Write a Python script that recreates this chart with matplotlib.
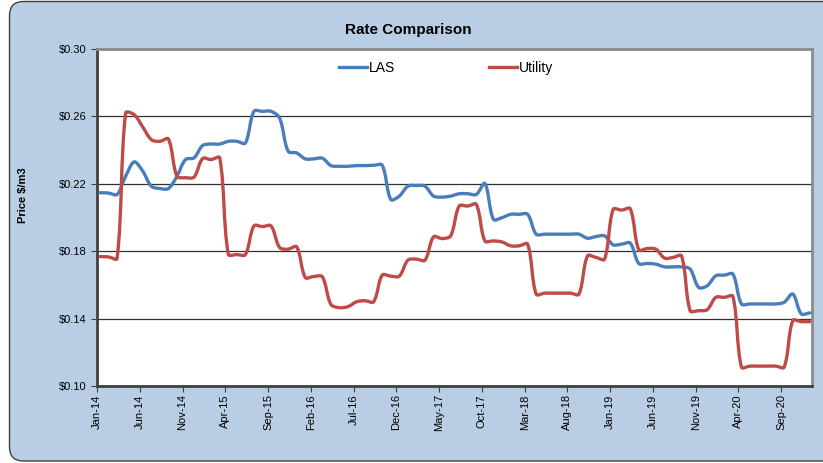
import matplotlib
matplotlib.use('Agg')
import matplotlib.pyplot as plt
import numpy as np
from matplotlib.path import Path
from matplotlib.patches import PathPatch, FancyBboxPatch
from matplotlib.lines import Line2D
from matplotlib.transforms import IdentityTransform
from matplotlib.ticker import FuncFormatter

plt.rcParams['font.family'] = ['Liberation Sans', 'DejaVu Sans']

# monthly rates, Jan-14 .. Dec-20
las = [0.2147, 0.2145, 0.2137, 0.2245, 0.2330, 0.2275, 0.2186, 0.2172, 0.2172, 0.2245,
       0.2344, 0.2354, 0.2427, 0.2436, 0.2436, 0.2452, 0.2452, 0.2442, 0.2630, 0.2630,
       0.2630, 0.2590, 0.2393, 0.2383, 0.2348, 0.2348, 0.2352, 0.2308, 0.2304, 0.2304,
       0.2308, 0.2308, 0.2310, 0.2310, 0.2107, 0.2127, 0.2186, 0.2190, 0.2186, 0.2127,
       0.2121, 0.2127, 0.2141, 0.2141, 0.2137, 0.2202, 0.1989, 0.1999, 0.2019, 0.2019,
       0.2019, 0.1901, 0.1901, 0.1901, 0.1901, 0.1901, 0.1901, 0.1877, 0.1887, 0.1891,
       0.1838, 0.1842, 0.1848, 0.1727, 0.1727, 0.1723, 0.1707, 0.1707, 0.1707, 0.1694,
       0.1585, 0.1595, 0.1654, 0.1658, 0.1664, 0.1487, 0.1487, 0.1487, 0.1487, 0.1487,
       0.1497, 0.1546, 0.1428, 0.1434]
utility = [0.1768, 0.1766, 0.1757, 0.2620, 0.2610, 0.2537, 0.2462, 0.2452, 0.2466, 0.2245,
           0.2236, 0.2240, 0.2350, 0.2344, 0.2354, 0.1782, 0.1780, 0.1780, 0.1950, 0.1946,
           0.1950, 0.1822, 0.1812, 0.1826, 0.1644, 0.1650, 0.1648, 0.1484, 0.1465, 0.1471,
           0.1500, 0.1506, 0.1500, 0.1658, 0.1652, 0.1652, 0.1747, 0.1753, 0.1747, 0.1885,
           0.1875, 0.1891, 0.2068, 0.2068, 0.2078, 0.1861, 0.1861, 0.1855, 0.1832, 0.1832,
           0.1842, 0.1545, 0.1551, 0.1551, 0.1551, 0.1551, 0.1545, 0.1772, 0.1763, 0.1753,
           0.2048, 0.2044, 0.2052, 0.1808, 0.1816, 0.1812, 0.1759, 0.1763, 0.1772, 0.1447,
           0.1447, 0.1453, 0.1526, 0.1526, 0.1532, 0.1112, 0.1118, 0.1118, 0.1118, 0.1118,
           0.1112, 0.1388, 0.1382, 0.1382]
tick_labels = ['Jan-14', 'Jun-14', 'Nov-14', 'Apr-15', 'Sep-15', 'Feb-16', 'Jul-16',
               'Dec-16', 'May-17', 'Oct-17', 'Mar-18', 'Aug-18', 'Jan-19', 'Jun-19',
               'Nov-19', 'Apr-20', 'Sep-20']
y_ticks = [0.10, 0.14, 0.18, 0.22, 0.26, 0.30]

BLUE = '#4A7EBB'
RED = '#BE4B48'


def smooth_path(ax, y):
    # smoothed line like excel: bezier through each point, tangents weighted
    # by on-screen segment lengths so big jumps don't overshoot
    n = len(y)
    P = np.column_stack([np.arange(n, dtype=float), np.asarray(y, dtype=float)])
    D = ax.transData.transform(P)
    seg = np.hypot(*np.diff(D, axis=0).T)
    verts = [tuple(P[0])]
    codes = [Path.MOVETO]
    for i in range(n - 1):
        a = max(i - 1, 0)
        d = min(i + 2, n - 1)
        dm = seg[i]
        da = seg[i - 1] if i > 0 else 0.0
        dd = seg[i + 1] if i + 1 < n - 1 else 0.0
        w1 = dm / (da + dm) if da + dm > 0 else 0.5
        w2 = dm / (dm + dd) if dm + dd > 0 else 0.5
        c1 = P[i] + (P[i + 1] - P[a]) * w1 / 3.0
        c2 = P[i + 1] - (P[d] - P[i]) * w2 / 3.0
        verts += [tuple(c1), tuple(c2), tuple(P[i + 1])]
        codes += [Path.CURVE4] * 3
    return Path(verts, codes)


fig = plt.figure(figsize=(8.23, 4.63), dpi=100)
fig.patch.set_facecolor('white')
bg = FancyBboxPatch((9.5, 2), 830, 459.5, boxstyle='round,pad=0,rounding_size=14',
                    transform=IdentityTransform(), facecolor='#B9CDE5',
                    edgecolor='#404040', lw=1, zorder=-10)
fig.patches.append(bg)

ax = fig.add_axes([97 / 823, 77 / 463, 715 / 823, 337 / 463])
ax.set_facecolor('white')
ax.set_xlim(-0.35, 83.25)
ax.set_ylim(0.10, 0.30)

for vals, col in [(las, BLUE), (utility, RED)]:
    ax.add_patch(PathPatch(smooth_path(ax, vals), fill=False, edgecolor=col, lw=2.4,
                           capstyle='round', joinstyle='round', zorder=3))

ax.set_yticks(y_ticks)
ax.yaxis.set_major_formatter(FuncFormatter(lambda v, p: '${:.2f}'.format(v)))
ax.set_xticks([5 * k - 0.35 for k in range(len(tick_labels))])
ax.set_xticklabels(tick_labels, rotation=90)
ax.tick_params(axis='both', labelsize=8, direction='out', length=4, color='#404040')
ax.tick_params(axis='x', pad=2)
ax.grid(axis='y', color='#303030', lw=0.9, zorder=1)
ax.set_axisbelow(True)

for s in ['left', 'bottom']:
    ax.spines[s].set_color('#404040')
    ax.spines[s].set_linewidth(2)
for s in ['top', 'right']:
    ax.spines[s].set_color('#8C8C8C')
    ax.spines[s].set_linewidth(2)

ax.set_ylabel('Price $/m3', fontsize=8, fontweight='bold')
ax.yaxis.set_label_coords(-0.097, 0.567)

fig.text(408 / 823, 1 - 30 / 463, 'Rate Comparison', ha='center', va='center',
         fontsize=11, fontweight='bold')

handles = [Line2D([], [], color=BLUE, lw=2.4), Line2D([], [], color=RED, lw=2.4)]
ax.legend(handles, ['LAS', 'Utility'], loc='center', bbox_to_anchor=(0.4885, 0.944),
          ncol=2, frameon=False, fontsize=10, handlelength=2.0, handletextpad=0.15,
          columnspacing=6.8)

fig.savefig('out.png', dpi=100)
